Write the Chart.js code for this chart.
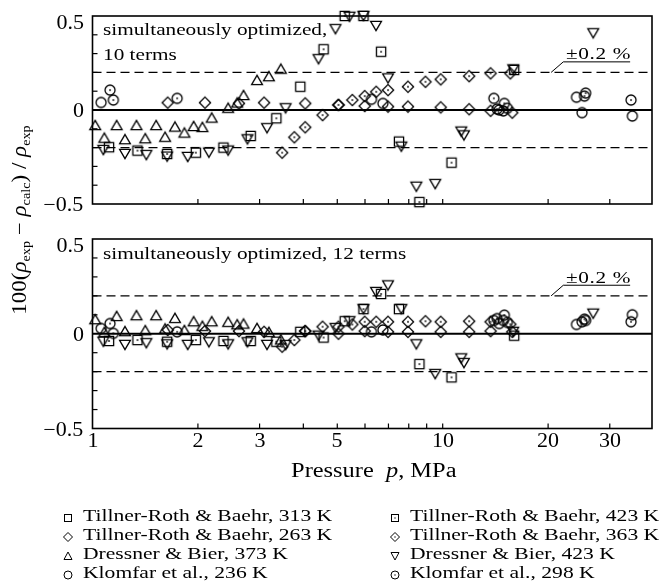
<!DOCTYPE html>
<html>
<head>
<meta charset="utf-8">
<script src="https://cdn.jsdelivr.net/npm/chart.js@4.4.0/dist/chart.umd.min.js"></script>
<style>
html,body{margin:0;padding:0;background:#fff;}
body{width:659px;height:585px;position:relative;overflow:hidden;font-family:"Liberation Serif","Times New Roman",Times,"DejaVu Serif",serif;color:#000;}
canvas{position:absolute;left:0;}
#c1{top:0;}
#c2{top:220px;}
.t{position:absolute;white-space:nowrap;line-height:1;z-index:2;}
.sx{display:inline-block;transform-origin:0 50%;}
.ann{font-size:17px;}
.ann .sx{transform:scaleX(1.25);}
.pct{font-size:17px;letter-spacing:0.5px;}
.pct .sx{transform:scaleX(1.25);}
#xt{left:92px;width:563px;text-align:center;top:460px;font-size:20px;}
#xt .sx{transform:scaleX(1.22);transform-origin:50% 50%;}
#yt{left:19px;top:220px;font-size:20px;transform:translate(-50%,-50%) rotate(-90deg) scaleX(1.15);}
#yt i, #xt i{font-style:italic;}
sub{font-size:0.62em;vertical-align:-0.3em;line-height:0;}
.leg{position:absolute;font-size:17px;line-height:1;white-space:nowrap;z-index:2;}
.leg .sx{transform:scaleX(1.27);}
.leg svg{position:absolute;left:-21px;top:4.5px;}
.tk{position:absolute;font-size:20px;line-height:1;white-space:nowrap;z-index:2;}
.tkx{width:60px;text-align:center;}
.tkx .sx{transform:scaleX(1.1);transform-origin:50% 50%;}
.tky{width:60px;text-align:right;}
.tky .sx{transform:scaleX(1.1);transform-origin:100% 50%;}
</style>
</head>
<body>
<canvas id="c1" width="659" height="215"></canvas>
<canvas id="c2" width="659" height="250"></canvas>

<div class="t ann" style="left:103px;top:20.6px;"><span class="sx">simultaneously optimized,</span></div>
<div class="t ann" style="left:103px;top:46.3px;"><span class="sx">10 terms</span></div>
<div class="t pct" style="left:566px;top:45px;"><span class="sx">±0.2 %</span></div>

<div class="t ann" style="left:103px;top:245px;"><span class="sx">simultaneously optimized, 12 terms</span></div>
<div class="t pct" style="left:566px;top:269px;"><span class="sx">±0.2 %</span></div>

<div class="t" id="xt"><span class="sx">Pressure&nbsp; <i>p</i>, MPa</span></div>
<div class="t" id="yt">100(<i>ρ</i><sub>exp</sub> − <i>ρ</i><sub>calc</sub>) / <i>ρ</i><sub>exp</sub></div>

<div id="ticks"></div>
<div id="legend"></div>

<script>
// ---------------- data ----------------
const xTickValues = [1, 2, 3, 5, 10, 20, 30];
const xMinorTicks = [2, 3, 4, 5, 6, 7, 8, 9, 10, 20, 30];
const yTickValues = [-0.5, 0, 0.5];
const yTickLabels = ['\u22120.5', '0', '0.5'];
const yMinorTicks = [-0.4, -0.3, -0.2, -0.1, 0.1, 0.2, 0.3, 0.4];
const bandLimits = [-0.2, 0.2];

// Tillner-Roth & Baehr, 313 K
const tr313P     = [3.92, 7.5, 16.0];
const tr313Dev10 = [0.124, -0.168, 0.213];
const tr313Dev12 = [0.01, 0.13, -0.01];

// Tillner-Roth & Baehr, 423 K
const tr423P     = [1.115, 1.344, 1.634, 1.973, 2.366, 2.83, 3.35, 4.57, 5.25, 5.94, 6.67, 8.58, 10.6];
const tr423Dev10 = [-0.198, -0.216, -0.234, -0.227, -0.200, -0.138, -0.044, 0.323, 0.50, 0.50, 0.31, -0.49, -0.28];
const tr423Dev12 = [-0.038, -0.033, -0.042, -0.033, -0.038, -0.038, -0.042, -0.02, 0.066, 0.13, 0.21, -0.16, -0.23];

// Tillner-Roth & Baehr, 263 K
const tr263P     = [1.64, 2.095, 2.62, 3.09, 4.05, 5.04, 5.99, 6.98, 7.96, 9.87, 11.9, 13.7, 15.8];
const tr263Dev10 = [0.039, 0.039, 0.035, 0.039, 0.035, 0.027, 0.021, 0.018, 0.018, 0.014, 0.004, -0.004, -0.014];
const tr263Dev12 = [0.02, 0.014, 0.014, 0.01, 0.014, 0.0, 0.014, 0.01, 0.01, 0.01, 0.01, 0.014, 0.01];

// Tillner-Roth & Baehr, 363 K
const tr363P     = [3.48, 3.77, 4.05, 4.54, 5.04, 5.52, 5.99, 6.46, 6.98, 7.96, 8.93, 9.87, 11.9, 13.7, 15.6];
const tr363Dev10 = [-0.227, -0.145, -0.092, -0.027, 0.027, 0.053, 0.074, 0.097, 0.106, 0.124, 0.15, 0.163, 0.18, 0.195, 0.195];
const tr363Dev12 = [-0.068, -0.033, 0.014, 0.037, 0.037, 0.049, 0.063, 0.063, 0.063, 0.063, 0.066, 0.063, 0.066, 0.063, 0.05];

// Dressner & Bier, 373 K
const db373P     = [1.018, 1.081, 1.172, 1.238, 1.335, 1.415, 1.52, 1.612, 1.72, 1.83, 1.945, 2.06, 2.19, 2.44, 2.59, 2.70, 2.95, 3.19, 3.45];
const db373Dev10 = [-0.08, -0.147, -0.08, -0.155, -0.08, -0.15, -0.08, -0.142, -0.088, -0.12, -0.085, -0.09, -0.04, 0.012, 0.04, 0.08, 0.16, 0.18, 0.22];
const db373Dev12 = [0.077, 0.01, 0.094, 0.014, 0.098, 0.019, 0.098, 0.028, 0.084, 0.02, 0.066, 0.042, 0.066, 0.063, 0.05, 0.054, 0.031, 0.01, -0.03];

// Dressner & Bier, 423 K
const db423P     = [1.074, 1.238, 1.425, 1.634, 1.87, 2.15, 2.44, 2.77, 3.15, 3.56, 4.42, 4.94, 5.42, 5.94, 6.45, 6.98, 7.62, 8.41, 9.52, 11.3, 11.5, 15.9, 26.9];
const db423Dev10 = [-0.213, -0.234, -0.24, -0.248, -0.25, -0.227, -0.216, -0.156, -0.097, 0.009, 0.27, 0.43, 0.496, 0.5, 0.447, 0.168, -0.195, -0.408, -0.394, -0.115, -0.135, 0.216, 0.408];
const db423Dev12 = [-0.042, -0.059, -0.05, -0.056, -0.059, -0.045, -0.056, -0.045, -0.059, -0.06, -0.01, 0.03, 0.066, 0.13, 0.22, 0.255, 0.13, -0.056, -0.213, -0.13, -0.155, 0.01, 0.106];

// Klomfar et al., 236 K
const kl236P     = [1.058, 6.26, 6.75, 14.5, 14.9, 24.1, 25.0, 34.8];
const kl236Dev10 = [0.04, 0.057, 0.035, 0.0, -0.005, 0.068, -0.014, -0.032];
const kl236Dev12 = [0.028, 0.01, 0.02, 0.054, 0.07, 0.049, 0.063, 0.1];

// Klomfar et al., 298 K
const kl298P     = [1.122, 1.147, 1.745, 14.0, 14.3, 15.0, 15.3, 25.4, 25.6, 34.5];
const kl298Dev10 = [0.106, 0.053, 0.062, 0.062, 0.005, 0.035, 0.009, 0.074, 0.09, 0.053];
const kl298Dev12 = [0.054, 0.002, 0.01, 0.07, 0.08, 0.098, 0.06, 0.077, 0.07, 0.063];

const seriesLabels = [
  'Tillner-Roth & Baehr, 313 K', 'Tillner-Roth & Baehr, 423 K',
  'Tillner-Roth & Baehr, 263 K', 'Tillner-Roth & Baehr, 363 K',
  'Dressner & Bier, 373 K', 'Dressner & Bier, 423 K',
  'Klomfar et al., 236 K', 'Klomfar et al., 298 K'
];

// --------------- marker images ---------------
function marker(shape, dot) {
  const s = 18, m = s / 2;
  const c = document.createElement('canvas');
  c.width = s; c.height = s;
  const g = c.getContext('2d');
  g.strokeStyle = '#000'; g.lineWidth = 1.3; g.lineJoin = 'miter';
  g.beginPath();
  if (shape === 'sq') { const h = 4.6; g.rect(m - h, m - h, 2 * h, 2 * h); }
  else if (shape === 'di') { const h = 5.6; g.moveTo(m, m - h); g.lineTo(m + h, m); g.lineTo(m, m + h); g.lineTo(m - h, m); g.closePath(); }
  else if (shape === 'tu') { const w = 5.4, h = 4.6; g.moveTo(m, m - h); g.lineTo(m + w, m + h); g.lineTo(m - w, m + h); g.closePath(); }
  else if (shape === 'td') { const w = 5.4, h = 4.6; g.moveTo(m, m + h); g.lineTo(m + w, m - h); g.lineTo(m - w, m - h); g.closePath(); }
  else { g.arc(m, m, 5.0, 0, Math.PI * 2); }
  g.stroke();
  if (dot) { g.fillStyle = '#000'; g.fillRect(m - 0.8, m - 0.8, 1.6, 1.6); }
  return c;
}

const series = [
  { label: seriesLabels[0], p: tr313P, d10: tr313Dev10, d12: tr313Dev12, shape: 'sq', dot: false },
  { label: seriesLabels[1], p: tr423P, d10: tr423Dev10, d12: tr423Dev12, shape: 'sq', dot: true },
  { label: seriesLabels[2], p: tr263P, d10: tr263Dev10, d12: tr263Dev12, shape: 'di', dot: false },
  { label: seriesLabels[3], p: tr363P, d10: tr363Dev10, d12: tr363Dev12, shape: 'di', dot: true },
  { label: seriesLabels[4], p: db373P, d10: db373Dev10, d12: db373Dev12, shape: 'tu', dot: false },
  { label: seriesLabels[5], p: db423P, d10: db423Dev10, d12: db423Dev12, shape: 'td', dot: false },
  { label: seriesLabels[6], p: kl236P, d10: kl236Dev10, d12: kl236Dev12, shape: 'ci', dot: false },
  { label: seriesLabels[7], p: kl298P, d10: kl298Dev10, d12: kl298Dev12, shape: 'ci', dot: true }
];

// --------------- frame / reference plugin ---------------
const framePlugin = {
  id: 'frame',
  beforeDatasetsDraw(chart) {
    const { ctx, chartArea: a, scales: { x, y } } = chart;
    ctx.save();
    ctx.strokeStyle = '#000';
    ctx.lineWidth = 1.2;
    ctx.setLineDash([9, 5]);
    bandLimits.forEach(v => {
      const py = y.getPixelForValue(v);
      ctx.beginPath(); ctx.moveTo(a.left, py); ctx.lineTo(a.right, py); ctx.stroke();
    });
    ctx.setLineDash([]);
    ctx.lineWidth = 2;
    const p0 = y.getPixelForValue(0);
    ctx.beginPath(); ctx.moveTo(a.left, p0); ctx.lineTo(a.right, p0); ctx.stroke();
    ctx.lineWidth = 1;
    ctx.beginPath();
    ctx.moveTo(x.getPixelForValue(20.4), y.getPixelForValue(0.2));
    ctx.lineTo(x.getPixelForValue(22.1), y.getPixelForValue(0.256));
    ctx.lineTo(x.getPixelForValue(34.3), y.getPixelForValue(0.256));
    ctx.stroke();
    ctx.lineWidth = 1.6;
    ctx.strokeRect(a.left, a.top, a.right - a.left, a.bottom - a.top);
    ctx.lineWidth = 1.2;
    xMinorTicks.forEach(v => {
      const px = x.getPixelForValue(v);
      ctx.beginPath(); ctx.moveTo(px, a.bottom); ctx.lineTo(px, a.bottom - 5); ctx.stroke();
    });
    yMinorTicks.forEach(v => {
      const py = y.getPixelForValue(v);
      ctx.beginPath(); ctx.moveTo(a.left, py); ctx.lineTo(a.left + 5, py); ctx.stroke();
    });
    ctx.restore();
  }
};

function makeChart(id, key, pad, xHeight) {
  return new Chart(document.getElementById(id), {
    type: 'scatter',
    data: {
      datasets: series.map(s => ({
        label: s.label,
        data: s.p.map((p, i) => ({ x: p, y: s[key][i] })),
        pointStyle: marker(s.shape, s.dot),
        pointRadius: 6, pointHoverRadius: 6,
        borderColor: '#000', backgroundColor: 'rgba(0,0,0,0)',
        clip: false
      }))
    },
    options: {
      responsive: false, animation: false, events: [],
      layout: { padding: pad },
      plugins: { legend: { display: false }, tooltip: { enabled: false } },
      scales: {
        x: {
          type: 'logarithmic', min: 1, max: 39.6,
          grid: { display: false, drawTicks: false }, border: { display: false },
          afterBuildTicks: sc => { sc.ticks = xTickValues.map(v => ({ value: v })); },
          ticks: { display: false },
          afterFit: sc => { sc.height = xHeight; }
        },
        y: {
          min: -0.5, max: 0.5,
          grid: { display: false, drawTicks: false }, border: { display: false },
          afterBuildTicks: sc => { sc.ticks = yTickValues.map(v => ({ value: v })); },
          ticks: { display: false },
          afterFit: sc => { sc.width = 92.5; }
        }
      }
    },
    plugins: [framePlugin]
  });
}

const panels = [
  { chart: makeChart('c1', 'd10', { left: 0, top: 16, right: 4, bottom: 11 }, 0), top: 0, xLabels: false },
  { chart: makeChart('c2', 'd12', { left: 0, top: 19, right: 4, bottom: 0 }, 41.5), top: 220, xLabels: true }
];

// --------------- tick labels (text placed with the chart's own scales) ---------------
const tickEl = document.getElementById('ticks');
function addTick(cls, left, top, text) {
  const d = document.createElement('div');
  d.className = 'tk ' + cls;
  d.style.left = left + 'px';
  d.style.top = top + 'px';
  d.innerHTML = '<span class="sx">' + text + '</span>';
  tickEl.appendChild(d);
}
panels.forEach(pn => {
  const ch = pn.chart, a = ch.chartArea, xs = ch.scales.x, ys = ch.scales.y;
  yTickValues.forEach((v, i) => {
    const py = pn.top + ys.getPixelForValue(v) + (v >= 0.5 ? 6 : 0);
    addTick('tky', a.left - 9 - 60, py - 10, yTickLabels[i]);
  });
  if (pn.xLabels) {
    xTickValues.forEach(v => {
      const px = xs.getPixelForValue(v);
      addTick('tkx', px - 30, pn.top + a.bottom + 1, String(v));
    });
  }
});

// --------------- HTML legend ---------------
function svgSymbol(shape, dot) {
  let body = '';
  if (shape === 'sq') body = '<rect x="2.5" y="2.5" width="7" height="7"/>';
  else if (shape === 'di') body = '<polygon points="6,1.5 10.5,6 6,10.5 1.5,6"/>';
  else if (shape === 'tu') body = '<polygon points="6,2 10,9.5 2,9.5"/>';
  else if (shape === 'td') body = '<polygon points="6,10 10,2.5 2,2.5"/>';
  else body = '<circle cx="6" cy="6" r="4"/>';
  const d = dot ? '<rect x="5.4" y="5.4" width="1.2" height="1.2" fill="#000" stroke="none"/>' : '';
  return '<svg width="12" height="12" viewBox="0 0 12 12"><g fill="none" stroke="#000" stroke-width="1">' + body + d + '</g></svg>';
}
const legendTop = 507, legendRow = 19;
const legendCols = [83, 410];
const legEl = document.getElementById('legend');
series.forEach((s, i) => {
  const col = i % 2, row = Math.floor(i / 2);
  const div = document.createElement('div');
  div.className = 'leg';
  div.style.left = legendCols[col] + 'px';
  div.style.top = (legendTop + row * legendRow) + 'px';
  div.innerHTML = svgSymbol(s.shape, s.dot) + '<span class="sx">' + s.label.replace('&', '&amp;') + '</span>';
  legEl.appendChild(div);
});
</script>
</body>
</html>
